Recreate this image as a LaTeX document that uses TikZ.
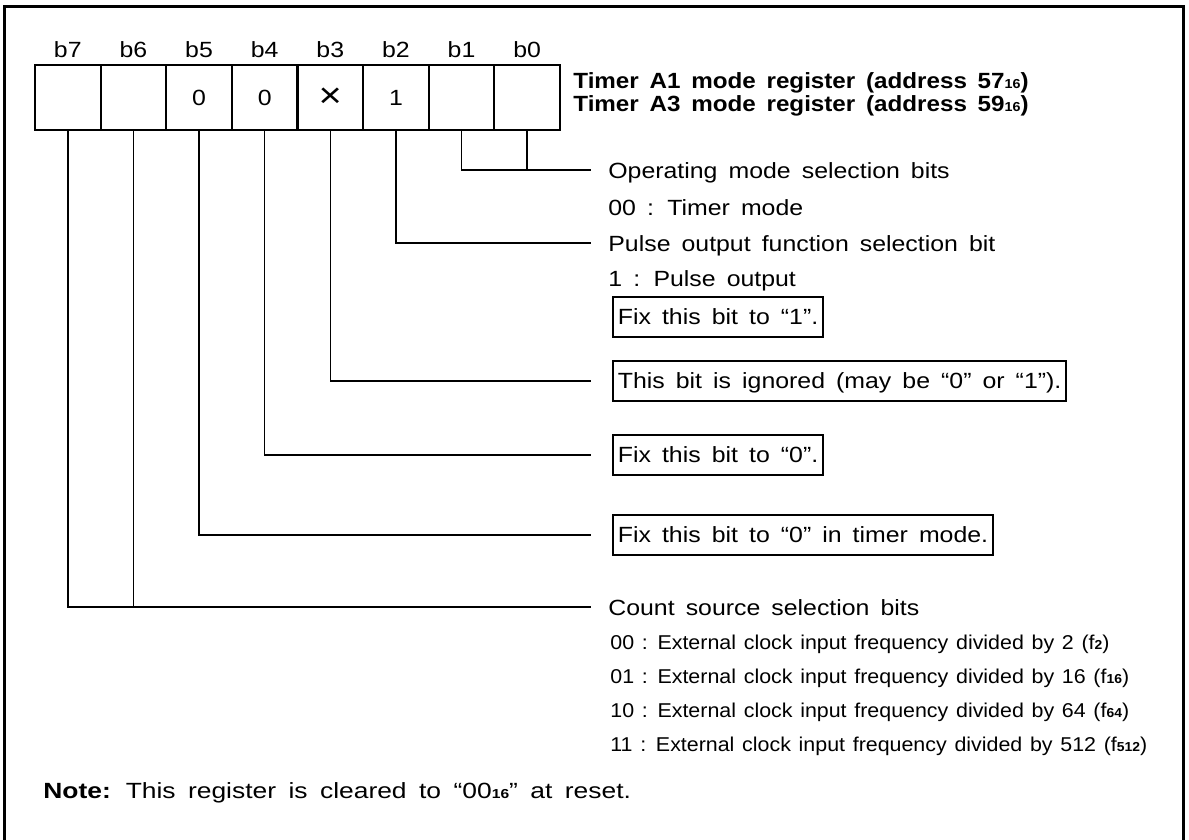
\documentclass[tikz,border=0pt]{standalone}
\usepackage{fontspec}
\setmainfont{Liberation Sans}[FakeStretch=1.13,WordSpace=1.6]
\newfontfamily\notefont{Liberation Sans}[FakeStretch=1.2,WordSpace=1.7]
\newfontfamily\titlefont{Liberation Sans}[FakeStretch=1.1,WordSpace=1.6]
\newfontfamily\subfont{Liberation Sans}[FakeStretch=1.07,WordSpace=1.3]
\newcommand\lowsub[1]{{\fontsize{6.5pt}{7pt}\selectfont\bfseries #1}}
\newcommand\bigtimes{\raisebox{-0.15ex}{\scalebox{1.6}{×}}}
\begin{document}
\begin{tikzpicture}[x=0.5pt,y=-0.5pt,
  frame/.style={line width=1.5pt},
  cell/.style={draw,line width=1pt,minimum width=32.8pt,minimum height=32.5pt,inner sep=0pt,outer sep=0pt,font=\fontsize{11pt}{13pt}\selectfont},
  bitlbl/.style={anchor=base,inner sep=0pt,font=\fontsize{11pt}{13pt}\selectfont},
  conn/.style={line width=0.75pt},
  txt/.style={anchor=base west,inner sep=0pt,font=\fontsize{11pt}{13pt}\selectfont},
  ttl/.style={anchor=base west,inner sep=0pt,font=\titlefont\bfseries\fontsize{11pt}{13pt}\selectfont},
  subtxt/.style={anchor=base west,inner sep=0pt,font=\subfont\fontsize{10pt}{12pt}\selectfont},
  notetxt/.style={anchor=base west,inner sep=0pt,font=\notefont\fontsize{11pt}{13pt}\selectfont},
  fixbox/.style={draw,line width=0.9pt,anchor=west,inner xsep=2.5pt,inner ysep=0pt,minimum height=20pt,text height=9pt,text depth=1.2pt,font=\fontsize{11pt}{13pt}\selectfont},
  ]
\useasboundingbox (0,0) rectangle (1189,840);
% outer frame (open at the bottom)
\draw[frame] (4,840) -- (4,7) -- (1183,7) -- (1183,840);

% register cells
\foreach \n/\v [count=\i from 0] in {7/,6/,5/0,4/0,3/\bigtimes,2/1,1/,0/}{
  \node[cell] (c\n) at ({35+65.625*(\i+0.5)},97.5) {\v};
  \node[bitlbl] (l\n) at ({35+65.625*(\i+0.5)},58) {b\n};
}

% title
\node[ttl] (t1) at (573,89) {Timer A1 mode register (address 57\lowsub{16})};
\node[ttl] (t2) at (573,112) {Timer A3 mode register (address 59\lowsub{16})};

% connector end points
\coordinate (e0) at (591,170);
\coordinate (e2) at (591,243);
\coordinate (e3) at (591,381);
\coordinate (e4) at (591,455);
\coordinate (e5) at (591,535);
\coordinate (e6) at (591,607);

% texts
\node[txt] (op) at (608,178) {Operating mode selection bits};
\node[txt] (tm) at (608,215) {00 : Timer mode};
\node[txt] (pf) at (608,251) {Pulse output function selection bit};
\node[txt] (po) at (608,286) {1 : Pulse output};
\node[fixbox] (bx1) at (612,317) {Fix this bit to “1”.};
\node[fixbox] (bx2) at (612,381) {This bit is ignored (may be “0” or “1”).};
\node[fixbox] (bx3) at (612,455) {Fix this bit to “0”.};
\node[fixbox] (bx4) at (612,535) {Fix this bit to “0” in timer mode.};
\node[txt] (cs) at (608,615) {Count source selection bits};
\node[subtxt] (s0) at (610,649) {00 : External clock input frequency divided by 2 (f\lowsub{2})};
\node[subtxt] (s1) at (610,683) {01 : External clock input frequency divided by 16 (f\lowsub{16})};
\node[subtxt] (s2) at (610,717) {10 : External clock input frequency divided by 64 (f\lowsub{64})};
\node[subtxt] (s3) at (610,751) {11 : External clock input frequency divided by 512 (f\lowsub{512})};
\node[notetxt] (nt) at (43,798) {\textbf{Note:} This register is cleared to “00\lowsub{16}” at reset.};

% connectors
\draw[conn] (c1.south) |- (e0);
\draw[conn] (c0.south) -- (c0.south |- e0);
\draw[conn] (c2.south) |- (e2);
\draw[conn] (c3.south) |- (e3);
\draw[conn] (c4.south) |- (e4);
\draw[conn] (c5.south) |- (e5);
\draw[conn] (c7.south) |- (e6);
\draw[conn] (c6.south) -- (c6.south |- e6);
\end{tikzpicture}
\end{document}
